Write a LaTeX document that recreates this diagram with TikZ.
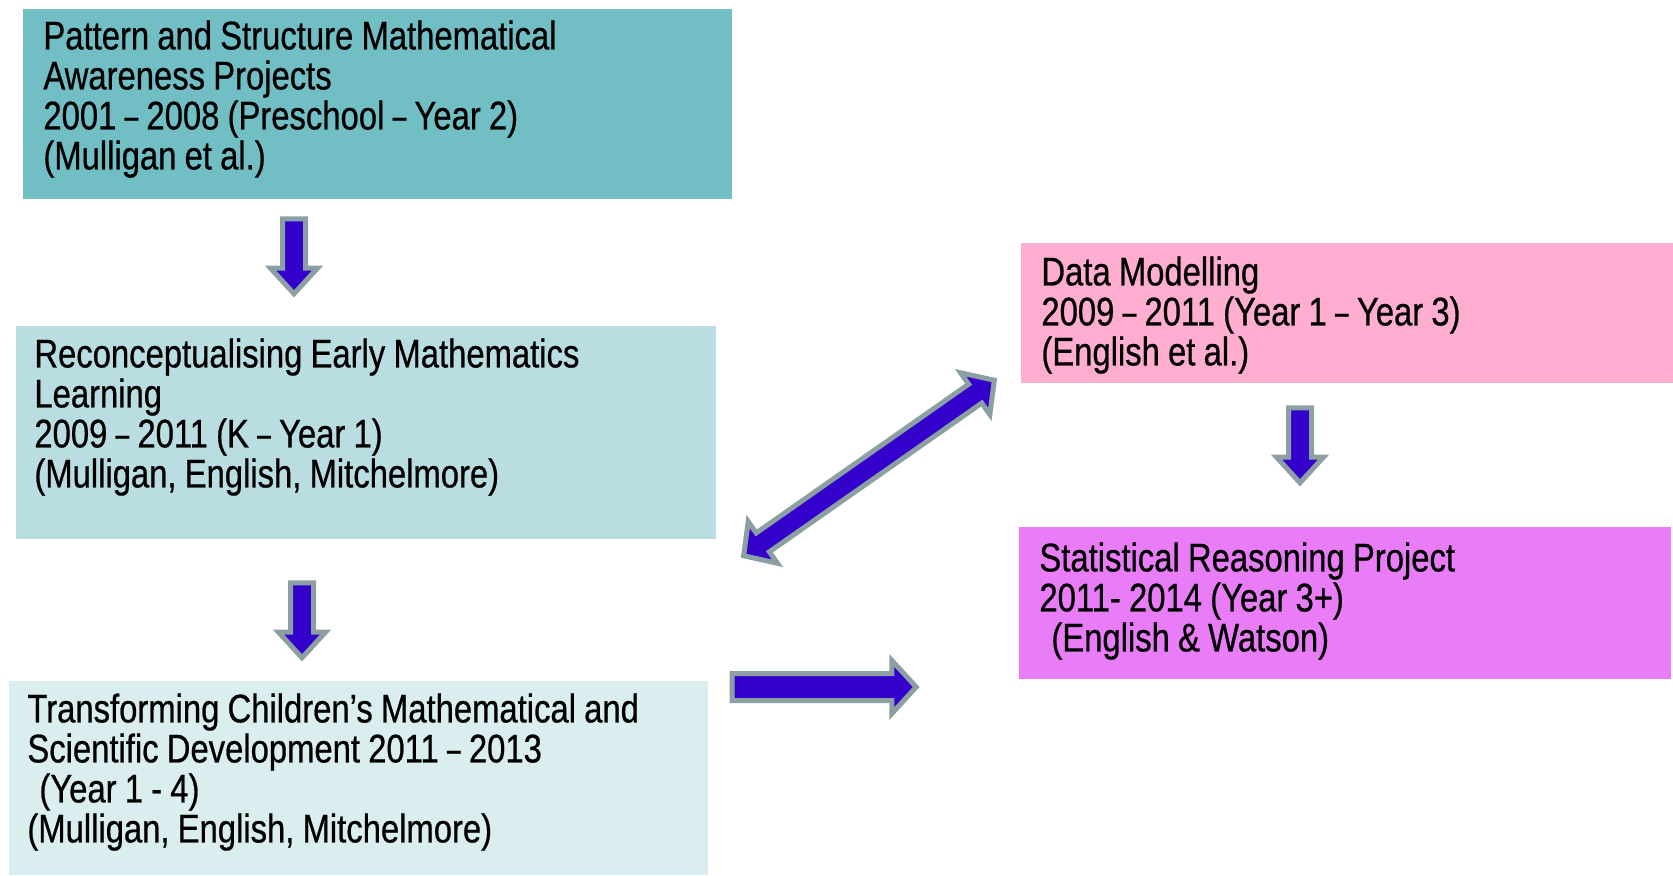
\documentclass[tikz,border=0pt]{standalone}
\usepackage{fontspec}
\setmainfont{Liberation Sans}[FakeStretch=0.82,FakeBold=0.6]
\usepackage{graphicx}
\usepackage{xcolor}
\usepackage{tikz}
\usetikzlibrary{
  shapes.arrows,
  calc
}
\definecolor{patfill}{HTML}{72BEC5}
\definecolor{remfill}{HTML}{B9DDE1}
\definecolor{tcmfill}{HTML}{DAEDEF}
\definecolor{datafill}{HTML}{FFAED2}
\definecolor{statfill}{HTML}{E97CF7}
\definecolor{arrowfill}{HTML}{3300CC}
\definecolor{arrowedge}{HTML}{8CA0A3}
\newcommand{\projfont}{\fontsize{20pt}{20pt}\selectfont}
\newcommand{\nd}{\scalebox{0.75}[1]{–}}
\tikzset{
  projbox/.style={
    rectangle, fill=#1, anchor=north west, align=left,
    inner xsep=9pt, inner ysep=0pt, font=\projfont,
    execute at begin node={\spaceskip=4.1pt\relax\xspaceskip=4.1pt\relax}
  },
  blockarrow/.style={
    draw=arrowedge, fill=arrowfill, line width=2.5pt,
    inner xsep=0pt, inner ysep=4.5pt, miter limit=4
  },
  downarrow/.style={
    blockarrow, single arrow, rotate=-90,
    minimum height=37.5pt,
    single arrow head extend=6pt, single arrow tip angle=85
  },
  rightarrow/.style={
    blockarrow, single arrow, inner ysep=5.5pt,
    minimum height=92pt,
    single arrow head extend=6.5pt, single arrow tip angle=95
  },
  botharrow/.style={
    blockarrow, double arrow, rotate=35,
    minimum height=153pt,
    double arrow head extend=7pt, double arrow tip angle=95
  },
}

\begin{document}
\begin{tikzpicture}[x=0.5pt,y=-0.5pt]
  \useasboundingbox (0,0) rectangle (1673,875);

  % left column
  \node[projbox=patfill, inner xsep=10pt, text width=334.5pt,
    text height=20pt, text depth=75pt] (pat) at (23,9)
    {Pattern and Structure Mathematical\\
     Awareness Projects\\
     2001 \nd{} 2008 (Preschool \nd{} Year 2)\\
     (Mulligan et al.)};
  \node[projbox=remfill, text width=332pt,
    text height=20.5pt, text depth=86pt] (rem) at (16,326)
    {Reconceptualising Early Mathematics\\
     Learning\\
     2009 \nd{} 2011 (K \nd{} Year 1)\\
     (Mulligan, English, Mitchelmore)};
  \node[projbox=tcmfill, text width=331.5pt,
    text height=20.5pt, text depth=76.5pt] (tcm) at (9,681)
    {Transforming Children’s Mathematical and\\
     Scientific Development 2011 \nd{} 2013\\
     \hspace*{0.3em}(Year 1 - 4)\\
     (Mulligan, English, Mitchelmore)};

  % right column
  \node[projbox=datafill, inner xsep=10pt, text width=306pt,
    text height=21pt, text depth=49pt] (data) at (1021,243)
    {Data Modelling\\
     2009 \nd{} 2011 (Year 1 \nd{} Year 3)\\
     (English et al.)};
  \node[projbox=statfill, inner xsep=10pt, text width=306pt,
    text height=22pt, text depth=54pt] (stat) at (1019,527)
    {Statistical Reasoning Project\\
     2011- 2014 (Year 3+)\\
     \hspace*{0.3em}(English \& Watson)};

  % block arrows
  \node[downarrow] (patrem) at (294,250) {};
  \node[downarrow] (remtcm) at (302,614) {};
  \node[downarrow] (datastat) at (1300,439) {};
  \node[rightarrow] (tcmstat) at (818,687) {};
  \node[botharrow] (remdata) at (869,468) {};
\end{tikzpicture}
\end{document}
